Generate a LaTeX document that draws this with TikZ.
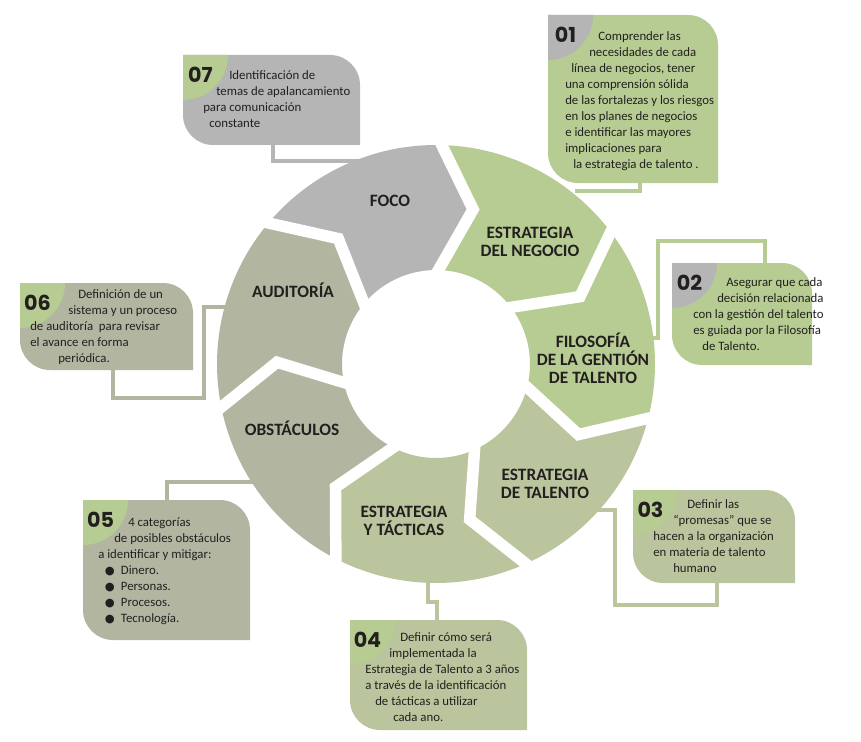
\documentclass[tikz,border=0pt]{standalone}
\usepackage{fontspec}
\setmainfont{Carlito}
\newfontfamily\numfont{Poppins}
\newfontfamily\bulletfont{DejaVu Sans}
\usetikzlibrary{calc}
\definecolor{cgray}{RGB}{181,181,181}
\definecolor{cgreen}{RGB}{183,204,146}
\definecolor{cmid}{RGB}{186,197,158}
\definecolor{colive}{RGB}{178,182,161}
\definecolor{ctext}{RGB}{35,31,32}
\newcommand\callout[7]{%
  \fill[#5] (#1,#2) -- ({#3-30},#2) arc[start angle=-90,end angle=0,radius=30] -- (#3,#4) -- ({#1+30},#4) arc[start angle=90,end angle=180,radius=30] -- cycle;
  \fill[#6] (#1,#2) -- ({#1+45},#2) arc[start angle=0,end angle=90,radius=45] -- cycle;
  \node[numlabel] (num#7) at ({#1+17.5},{#2+20}) {0#7};
}
\newcommand\bul{\hspace*{5pt}\makebox[12pt][l]{\bulletfont\fontsize{8.5}{8}\selectfont ●}}
\begin{document}
\begin{tikzpicture}[x=0.75pt,y=-0.75pt,
  bodytext/.style={font=\fontsize{9.6}{12}\selectfont, text=ctext, align=left, anchor=north west, inner sep=0pt},
  seglabel/.style={font=\fontsize{13}{13.5}\selectfont\bfseries, text=ctext, align=center, inner sep=0pt},
  numlabel/.style={font=\numfont\fontsize{15.5}{16}\selectfont\bfseries, text=ctext, inner sep=0pt},
  conn/.style={line width=2.4pt, line join=miter},
  gapline/.style={white, line width=8.6pt, line join=miter}]
\useasboundingbox (0,0) rectangle (861,742);

% connectors (under the ring)
\coordinate (c1s) at (640,183); \coordinate (c1e) at (575,191);
\draw[conn,cgreen] (c1s) |- (c1e);
\coordinate (c2s) at (765,263); \coordinate (c2e) at (645,338);
\draw[conn,cgreen] (c2s) -- ++(0,-22) -| (658,338) -- (c2e);
\coordinate (c3s) at (717,583); \coordinate (c3e) at (595,510);
\draw[conn,cmid] (c3s) -- ++(0,22) -| (615,510) -- (c3e);
\coordinate (c4s) at (437,620); \coordinate (c4e) at (428,578);
\draw[conn,cmid] (c4e) |- (437,602) -- (c4s);
\coordinate (c5s) at (167,500); \coordinate (c5e) at (258,482);
\draw[conn,colive] (c5s) |- (c5e);
\coordinate (c6s) at (113,370); \coordinate (c6e) at (230,307);
\draw[conn,colive] (c6s) |- (204,398) |- (c6e);
\coordinate (c7s) at (273,145); \coordinate (c7e) at (362,161);
\draw[conn,cgray] (c7s) |- (c7e);

% ring
\begin{scope}[shift={(436,364)}, x=0.75pt, y=0.75pt]
  \foreach \k/\col in {0/cgreen,1/cgreen,2/cmid,3/cmid,4/colive,5/colive,6/cgray} {
    \pgfmathsetmacro\a{88.5-\k*360/7}
    \pgfmathsetmacro\b{\a-360/7}
    \fill[\col] (\a:219) arc[start angle=\a, end angle=\b, radius=219] -- ({\b-12}:159) -- (\b:94) arc[start angle=\b, end angle=\a, radius=94] -- ({\a-12}:159) -- cycle;
  }
  \begin{scope}
    \clip (0,0) circle[radius=219.5];
    \foreach \k in {0,...,6} {
      \pgfmathsetmacro\a{88.5-\k*360/7}
      \coordinate (go) at (\a:219);
      \coordinate (gt) at ({\a-12}:159);
      \coordinate (gi) at (\a:94);
      \draw[gapline] ($(gt)!1.4!(go)$) -- (gt) -- ($(gt)!1.4!(gi)$);
    }
  \end{scope}
\end{scope}

% segment labels
\node[seglabel] (foco) at (390,201) {FOCO};
\node[seglabel] (negocio) at (530,242) {ESTRATEGIA\\DEL NEGOCIO};
\node[seglabel] (filosofia) at (593,358) {FILOSOFÍA\\DE LA GENTIÓN\\DE TALENTO};
\node[seglabel] (talento) at (545,484) {ESTRATEGIA\\DE TALENTO};
\node[seglabel] (tacticas) at (404,521) {ESTRATEGIA\\Y TÁCTICAS};
\node[seglabel] (obstaculos) at (292,428) {OBSTÁCULOS};
\node[seglabel] (auditoria) at (293,290) {AUDITORÍA};

% callouts
\callout{548}{15}{718}{183}{cgreen}{cgray}{1}
\node[bodytext] (t1) at (565,31) {\hspace*{24.8pt}Comprender las\\
\hspace*{18pt}necesidades de cada\\
\hspace*{4.5pt}línea de negocios, tener\\
una comprensión sólida\\
de las fortalezas y los riesgos\\
en los planes de negocios\\
e identificar las mayores\\
implicaciones para\\
\hspace*{6pt}la estrategia de talento .};

\callout{672}{263}{812}{365}{cgreen}{cgray}{2}
\node[bodytext] (t2) at (693,277) {\hspace*{24.8pt}Asegurar que cada\\
\hspace*{18pt}decisión relacionada\\
con la gestión del talento\\
es guiada por la Filosofía\\
\hspace*{6.8pt}de Talento.};

\callout{633}{490}{795}{583}{cmid}{cgreen}{3}
\node[bodytext] (t3) at (653,499) {\hspace*{25.5pt}Definir las\\
\hspace*{15pt}“promesas” que se\\
hacen a la organización\\
en materia de talento\\
\hspace*{15pt}humano};

\callout{350}{620}{527}{730}{cmid}{cgreen}{4}
\node[bodytext] (t4) at (365,632) {\hspace*{26.3pt}Definir cómo será\\
\hspace*{18pt}implementada la\\
Estrategia de Talento a 3 años\\
a través de la identificación\\
\hspace*{7.5pt}de tácticas a utilizar\\
\hspace*{21pt}cada ano.};

\callout{83}{500}{250}{640}{colive}{cgreen}{5}
\node[bodytext] (t5) at (98,517) {\hspace*{22.5pt}4 categorías\\
\hspace*{12pt}de posibles obstáculos\\
a identificar y mitigar:\\
\bul Dinero.\\
\bul Personas.\\
\bul Procesos.\\
\bul Tecnología.};

\callout{20}{283}{193}{370}{colive}{cgreen}{6}
\node[bodytext] (t6) at (30,289) {\hspace*{36pt}Definición de un\\
\hspace*{28.5pt}sistema y un proceso\\
de auditoría\ \ para revisar\\
el avance en forma\\
\hspace*{21pt}periódica.};

\callout{183}{55}{360}{145}{cgray}{cgreen}{7}
\node[bodytext] (t7) at (203,70) {\hspace*{19.5pt}Identificación de\\
\hspace*{9.8pt}temas de apalancamiento\\
para comunicación\\
\hspace*{4.5pt}constante};
\end{tikzpicture}
\end{document}
